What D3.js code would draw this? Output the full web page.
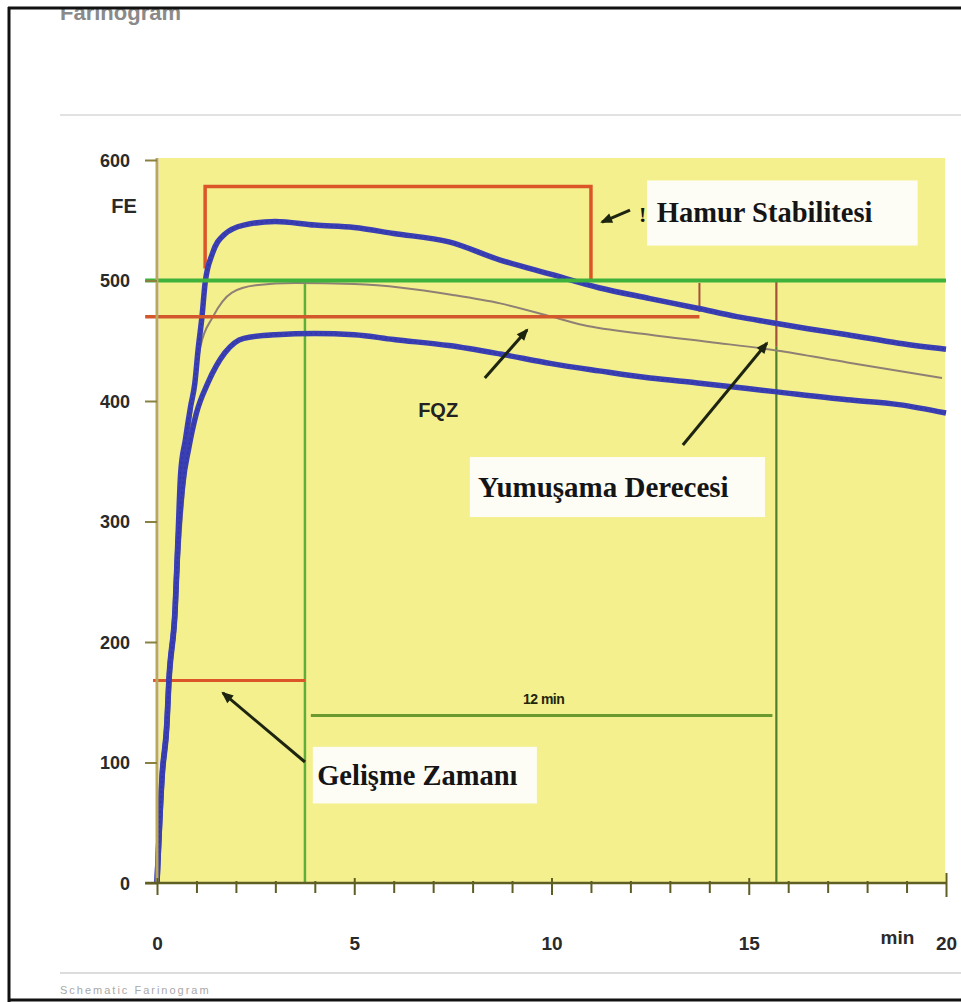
<!DOCTYPE html>
<html>
<head>
<meta charset="utf-8">
<script src="https://cdn.jsdelivr.net/npm/d3@7"></script>
<style>
  html, body { margin: 0; padding: 0; background: #fff; }
  svg { display: block; }
</style>
</head>
<body>
<svg id="chart" width="961" height="1002"></svg>
<script>
// ---------------- DATA ----------------
const yTicks = [0, 100, 200, 300, 400, 500, 600];
const xTicks = d3.range(0, 21);            // minor ticks every minute
const xLabels = [0, 5, 10, 15, 20];        // labelled ticks

// upper envelope of the consistency band (FE) vs time (min)
const upperCurve = [
  [0,0],[0.13,90],[0.25,133],[0.3,168],[0.46,229],[0.53,285],[0.6,340],[0.72,368],
  [0.85,395],[0.96,415],[1.04,442],[1.14,470],[1.22,498],[1.4,522],[1.7,538],[2.2,546],
  [3,549],[4,546],[5,544],[6,539],[7.4,532],[8.7,517],[10,505],[11.2,494],[12.5,485],
  [13.7,477],[14.7,470],[15.6,465],[16.5,460],[17.5,455],[18.8,448],[20,443]
];
// lower envelope
const lowerCurve = [
  [0,0],[0.13,88],[0.25,130],[0.3,165],[0.46,226],[0.53,280],[0.65,330],[0.8,360],
  [1.0,390],[1.29,415],[1.72,440],[2.2,452],[3,455],[4,456],[5,455],[6,451],[7.4,446],
  [8.7,439],[10,431],[11.2,425],[12.5,419],[13.7,415],[15.6,408],[17.5,401],[18.8,397],[20,390]
];
// mean (centre) curve
const meanCurve = [
  [0,0],[0.15,90],[0.3,160],[0.5,240],[0.62,300],[0.75,350],[0.9,400],[1.1,445],
  [1.42,470],[1.9,490],[2.5,496],[3.5,498],[5,497],[6.2,494],[7.5,488],[8.7,481],
  [10,470],[10.8,463],[12.5,455],[14,449],[15.7,442],[17.5,432],[19.9,419]
];

// reference levels / markers (values in min and FE)
const consistencyLine = 500;       // green 500 FE line
const fqzLine = 470;               // orange line
const stabilityStart = 1.22, stabilityEnd = 11.0, stabilityTop = 578;
const stabilityLeftBottom = 510;
const devTime = 3.75;              // development time (green vertical)
const devMarkLevel = 168;          // orange short line
const softTime = 15.7;             // 12 min after development time
const softTick = 13.75;
const bracketLevel = 139;
const bracketFrom = 3.9, bracketTo = 15.6;
const bracketLabel = "12 min";

// annotation labels: text, x(min), baseline(FE), box extent
const labels = [
  {text: "Hamur Stabilitesi", x: 12.67, y: 548.5, size: 28.5, bx0: 12.42, bx1: 19.28, by0: 583, by1: 529},
  {text: "Gelişme Zamanı",    x: 4.06,  y: 81,    size: 28.5, bx0: 3.95,  bx1: 9.63,  by0: 113, by1: 66},
  {text: "Yumuşama Derecesi", x: 8.14,  y: 320,   size: 29,   bx0: 7.93,  bx1: 15.41, by0: 353.5, by1: 303.7}
];
// arrows: [from, to] in (min, FE); arrowhead at "to"
const arrows = [
  [[11.99, 558.5], [11.28, 548.5]],
  [[3.75, 100.4],  [1.67, 157.7]],
  [[8.31, 419],    [9.38, 459]],
  [[13.33, 363.5], [15.46, 448]]
];
const fqzText = {text: "FQZ", x: 6.62, y: 387};
const unitY = "FE", unitX = "min";
const title = "Farinogram", footer = "Schematic Farinogram";

// ---------------- SCALES ----------------
const x = d3.scaleLinear().domain([0, 20]).range([157, 946]);
const y = d3.scaleLinear().domain([0, 600]).range([883, 160]);

const svg = d3.select("#chart");

svg.append("rect").attr("x", 0).attr("y", 0).attr("width", 961).attr("height", 1002).attr("fill", "#fff");

// title (clipped by the frame at top, as in the reference)
svg.append("text").attr("x", 60).attr("y", 20)
  .attr("font-family", "Liberation Sans, Arial, sans-serif").attr("font-weight", "bold")
  .attr("font-size", 22).attr("fill", "#8a8a8a").text(title);
svg.append("rect").attr("x", 0).attr("y", 0).attr("width", 961).attr("height", 8).attr("fill", "#fff");

// footer (small, faint, just above the bottom frame)
svg.append("text").attr("x", 60).attr("y", 994)
  .attr("font-family", "Liberation Sans, Arial, sans-serif")
  .attr("font-size", 11).attr("fill", "#a8a8a8").attr("letter-spacing", 2).text(footer);

// faint inner frame lines
svg.append("line").attr("x1", 60).attr("x2", 961).attr("y1", 115).attr("y2", 115)
  .attr("stroke", "#d8d8d8").attr("stroke-width", 1.5);
svg.append("line").attr("x1", 60).attr("x2", 961).attr("y1", 973).attr("y2", 973)
  .attr("stroke", "#d0d0d0").attr("stroke-width", 1.5);

// plot background
svg.append("rect")
  .attr("x", x(0) + 2).attr("y", y(600) - 2)
  .attr("width", x(20) - x(0) - 3).attr("height", y(0) - y(600) + 2)
  .attr("fill", "#f4f08e");

const g = svg.append("g");

// ---- reference lines ----
const orange = "#dc5528", green = "#3fb23c", vgreen = "#5fae3c";

g.append("line").attr("x1", x(devTime)).attr("x2", x(devTime))
  .attr("y1", y(consistencyLine)).attr("y2", y(0))
  .attr("stroke", vgreen).attr("stroke-width", 2.5);
g.append("line").attr("x1", x(softTime)).attr("x2", x(softTime))
  .attr("y1", y(445)).attr("y2", y(0))
  .attr("stroke", "#4f7f2e").attr("stroke-width", 2.2);
g.append("line").attr("x1", x(softTime)).attr("x2", x(softTime))
  .attr("y1", y(consistencyLine)).attr("y2", y(445))
  .attr("stroke", "#a4503a").attr("stroke-width", 2.2);
g.append("line").attr("x1", x(softTick)).attr("x2", x(softTick))
  .attr("y1", y(498)).attr("y2", y(474))
  .attr("stroke", "#a4503a").attr("stroke-width", 2);

g.append("line").attr("x1", x(-0.1)).attr("x2", x(devTime))
  .attr("y1", y(devMarkLevel)).attr("y2", y(devMarkLevel))
  .attr("stroke", orange).attr("stroke-width", 3);
g.append("line").attr("x1", x(bracketFrom)).attr("x2", x(bracketTo))
  .attr("y1", y(bracketLevel)).attr("y2", y(bracketLevel))
  .attr("stroke", "#6a9a2e").attr("stroke-width", 3);
g.append("text").attr("x", x((bracketFrom + bracketTo) / 2) + 2).attr("y", y(bracketLevel) - 12)
  .attr("text-anchor", "middle")
  .attr("font-family", "Liberation Sans, Arial, sans-serif").attr("font-weight", "bold")
  .attr("font-size", 14).attr("fill", "#23260c").attr("letter-spacing", -0.5).text(bracketLabel);

g.append("path")
  .attr("d", d3.line()([
    [x(stabilityStart), y(stabilityLeftBottom)],
    [x(stabilityStart), y(stabilityTop)],
    [x(stabilityEnd), y(stabilityTop)],
    [x(stabilityEnd), y(consistencyLine)]
  ]))
  .attr("fill", "none").attr("stroke", orange).attr("stroke-width", 3.5);

// ---- curves ----
const line = d3.line().x(d => x(d[0])).y(d => y(d[1])).curve(d3.curveMonotoneX);

g.append("path").datum(meanCurve).attr("d", line)
  .attr("fill", "none").attr("stroke", "#8e8074").attr("stroke-width", 2);
[upperCurve, lowerCurve].forEach(c => {
  g.append("path").datum(c).attr("d", line)
    .attr("fill", "none").attr("stroke", "#3a3fb4").attr("stroke-width", 5.5)
    .attr("stroke-linejoin", "round");
  g.append("path").datum(c).attr("d", line)
    .attr("fill", "none").attr("stroke", "#2b2f96").attr("stroke-width", 1.5)
    .attr("stroke-dasharray", "2 3").attr("opacity", 0.6);
});

g.append("line").attr("x1", x(-0.3)).attr("x2", x(20))
  .attr("y1", y(consistencyLine)).attr("y2", y(consistencyLine))
  .attr("stroke", green).attr("stroke-width", 4);
g.append("line").attr("x1", x(-0.3)).attr("x2", x(softTick))
  .attr("y1", y(fqzLine)).attr("y2", y(fqzLine))
  .attr("stroke", "#d2572c").attr("stroke-width", 3.5);

// ---- axes ----
const axisFont = "Liberation Sans, Arial, sans-serif";
const yAxis = g.append("g").attr("transform", `translate(${x(0)},0)`)
  .call(d3.axisLeft(y).tickValues(yTicks).tickSize(12).tickPadding(15));
yAxis.select(".domain").attr("stroke", "#bba95a").attr("stroke-width", 3)
  .attr("d", `M0,${y(0)}V${y(600) - 2}`);
yAxis.selectAll(".tick line").attr("stroke", "#8a8040").attr("stroke-width", 2);
yAxis.selectAll(".tick text").attr("font-family", axisFont).attr("font-weight", "bold")
  .attr("font-size", 18).attr("fill", "#2a2a2a").attr("dy", "0.36em");

g.append("text").attr("x", 124).attr("y", y(556))
  .attr("text-anchor", "middle").attr("font-family", axisFont).attr("font-weight", "bold")
  .attr("font-size", 20).attr("fill", "#2a2a2a").text(unitY);

const xAxis = g.append("g").attr("transform", `translate(0,${y(0)})`)
  .call(d3.axisBottom(x).tickValues(xTicks).tickSize(10)
        .tickFormat(d => xLabels.includes(d) ? d : ""));
xAxis.select(".domain").attr("stroke", "#5f5f24").attr("stroke-width", 2.5)
  .attr("d", `M${x(-0.3)},0H${x(20)}`);
xAxis.selectAll(".tick line")
  .attr("stroke", "#5f5f24").attr("stroke-width", 2)
  .attr("y1", d => d === 20 ? -10 : (d % 5 === 0 ? -5 : -2))
  .attr("y2", d => d === 20 ? 14 : (d % 5 === 0 ? 12 : 10));
xAxis.selectAll(".tick text")
  .attr("font-family", axisFont).attr("font-weight", "bold")
  .attr("font-size", 19).attr("fill", "#2a2a2a")
  .attr("y", 67).attr("dy", 0);

g.append("text").attr("x", x(18.77)).attr("y", y(0) + 61)
  .attr("text-anchor", "middle").attr("font-family", axisFont).attr("font-weight", "bold")
  .attr("font-size", 19).attr("fill", "#2a2a2a").text(unitX);

// ---- annotation boxes & text ----
labels.forEach(l => {
  g.append("rect").attr("x", x(l.bx0)).attr("y", y(l.by0))
    .attr("width", x(l.bx1) - x(l.bx0)).attr("height", y(l.by1) - y(l.by0))
    .attr("fill", "#fdfdf6");
  g.append("text").attr("x", x(l.x)).attr("y", y(l.y))
    .attr("font-family", "Liberation Serif, Times New Roman, serif").attr("font-weight", "bold")
    .attr("font-size", l.size).attr("fill", "#151515").text(l.text);
});
g.append("text").attr("x", x(12.22)).attr("y", y(548.5))
  .attr("font-family", "Liberation Serif, serif").attr("font-weight", "bold")
  .attr("font-size", 22).attr("fill", "#151515").text("!");

g.append("text").attr("x", x(fqzText.x)).attr("y", y(fqzText.y))
  .attr("font-family", axisFont).attr("font-weight", "bold")
  .attr("font-size", 20).attr("fill", "#222").text(fqzText.text);

// ---- arrows ----
arrows.forEach(([a, b]) => {
  const x1 = x(a[0]), y1 = y(a[1]), x2 = x(b[0]), y2 = y(b[1]);
  const ang = Math.atan2(y2 - y1, x2 - x1);
  g.append("line").attr("x1", x1).attr("y1", y1).attr("x2", x2).attr("y2", y2)
    .attr("stroke", "#1d2410").attr("stroke-width", 3);
  const L = 10, W = 5;
  const p = [
    [x2 + Math.cos(ang) * 2, y2 + Math.sin(ang) * 2],
    [x2 - Math.cos(ang) * L + Math.sin(ang) * W, y2 - Math.sin(ang) * L - Math.cos(ang) * W],
    [x2 - Math.cos(ang) * L - Math.sin(ang) * W, y2 - Math.sin(ang) * L + Math.cos(ang) * W]
  ];
  g.append("path").attr("d", d3.line()(p) + "Z").attr("fill", "#1d2410");
});

// ---- outer black frame ----
svg.append("line").attr("x1", 8).attr("x2", 961).attr("y1", 8).attr("y2", 8)
  .attr("stroke", "#111").attr("stroke-width", 3);
svg.append("line").attr("x1", 9).attr("x2", 9).attr("y1", 7).attr("y2", 1002)
  .attr("stroke", "#111").attr("stroke-width", 3);
svg.append("line").attr("x1", 8).attr("x2", 961).attr("y1", 1000).attr("y2", 1000)
  .attr("stroke", "#111").attr("stroke-width", 3);
</script>
</body>
</html>
